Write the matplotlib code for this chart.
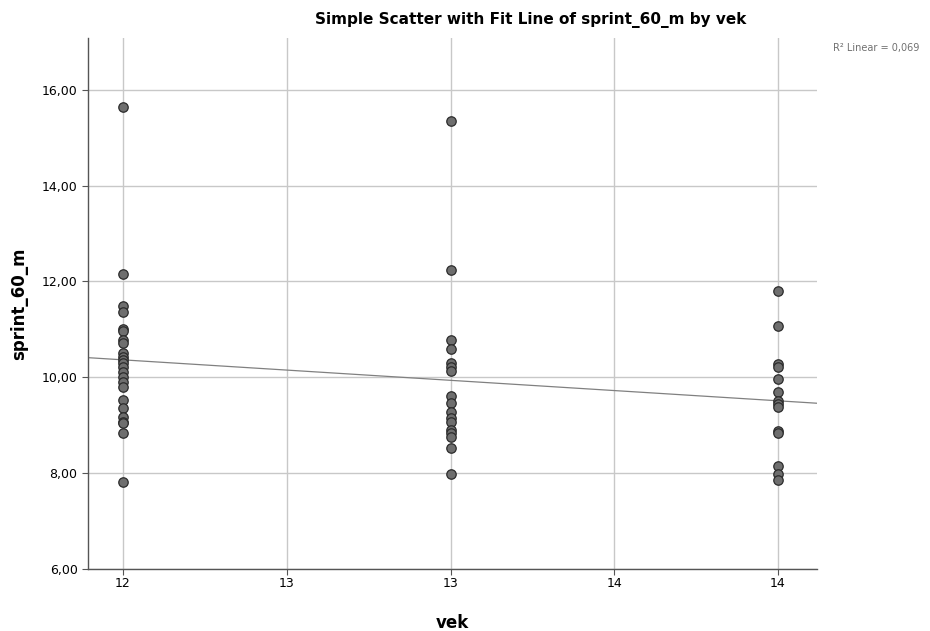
import numpy as np
import matplotlib
matplotlib.use("Agg")
import matplotlib.pyplot as plt
from matplotlib.ticker import FuncFormatter

vek_12 = [15.65, 12.16, 11.49, 11.37, 11.01, 10.97, 10.77, 10.72, 10.51, 10.43, 10.36,
          10.30, 10.22, 10.11, 10.01, 9.90, 9.80, 9.53, 9.36, 9.17, 9.07, 9.05, 8.84, 7.82]
vek_13 = [15.35, 12.23, 10.77, 10.59, 10.29, 10.22, 10.14, 9.60, 9.46, 9.28, 9.15, 9.07,
          8.90, 8.83, 8.76, 8.52, 7.98]
vek_14 = [11.79, 11.07, 10.27, 10.21, 9.96, 9.70, 9.51, 9.44, 9.39, 8.87, 8.83, 8.14,
          7.98, 7.86]
ages = [12, 13, 14]
x_ticks = [12, 12.5, 13, 13.5, 14]
x_tick_labels = ["12", "13", "13", "14", "14"]
y_ticks = [6, 8, 10, 12, 14, 16]
r2_label = "R\u00b2 Linear = 0,069"

xs = np.concatenate([np.full(len(v), a) for a, v in zip(ages, [vek_12, vek_13, vek_14])])
ys = np.concatenate([vek_12, vek_13, vek_14])

fig = plt.figure(figsize=(9.3, 6.31), dpi=100)
ax = fig.add_axes([0.0946, 0.0983, 0.7839, 0.8415])

ax.set_xticks(x_ticks)
ax.set_xticklabels(x_tick_labels)
ax.set_yticks(y_ticks)
ax.set_xlim(11.893, 14.119)
ax.set_ylim(6, 17.08)
ax.grid(True, color="#c8c8c8", linewidth=1.0)
ax.set_axisbelow(True)

slope, intercept = np.polyfit(xs, ys, 1)
lx = np.array(ax.get_xlim())
ax.plot(lx, intercept + slope * lx, color="#808080", linewidth=0.9, zorder=2)

ax.scatter(xs, ys, s=46, facecolor="#6e6e6e", edgecolor="#2b2b2b", linewidth=0.9, zorder=3)

for s in ["top", "right"]:
    ax.spines[s].set_visible(False)
for s in ["left", "bottom"]:
    ax.spines[s].set_color("#555555")
    ax.spines[s].set_linewidth(1.0)

ax.yaxis.set_major_formatter(FuncFormatter(lambda v, p: f"{v:.2f}".replace(".", ",")))
ax.tick_params(axis="both", labelsize=9, colors="#555555", labelcolor="black", length=4)
ax.tick_params(axis="x", pad=2)

ax.set_xlabel("vek", fontsize=12, fontweight="bold")
ax.xaxis.set_label_coords(0.5, -0.085)
ax.set_ylabel("sprint_60_m", fontsize=12, fontweight="bold", labelpad=10)
fig.text(531 / 930, 1 - 20 / 631, "Simple Scatter with Fit Line of sprint_60_m by vek",
         ha="center", va="center", fontsize=11, fontweight="bold")
fig.text(876 / 930, 1 - 48 / 631, r2_label, ha="center", va="center", fontsize=7, color="#707070")

fig.savefig("out.png", dpi=100)
